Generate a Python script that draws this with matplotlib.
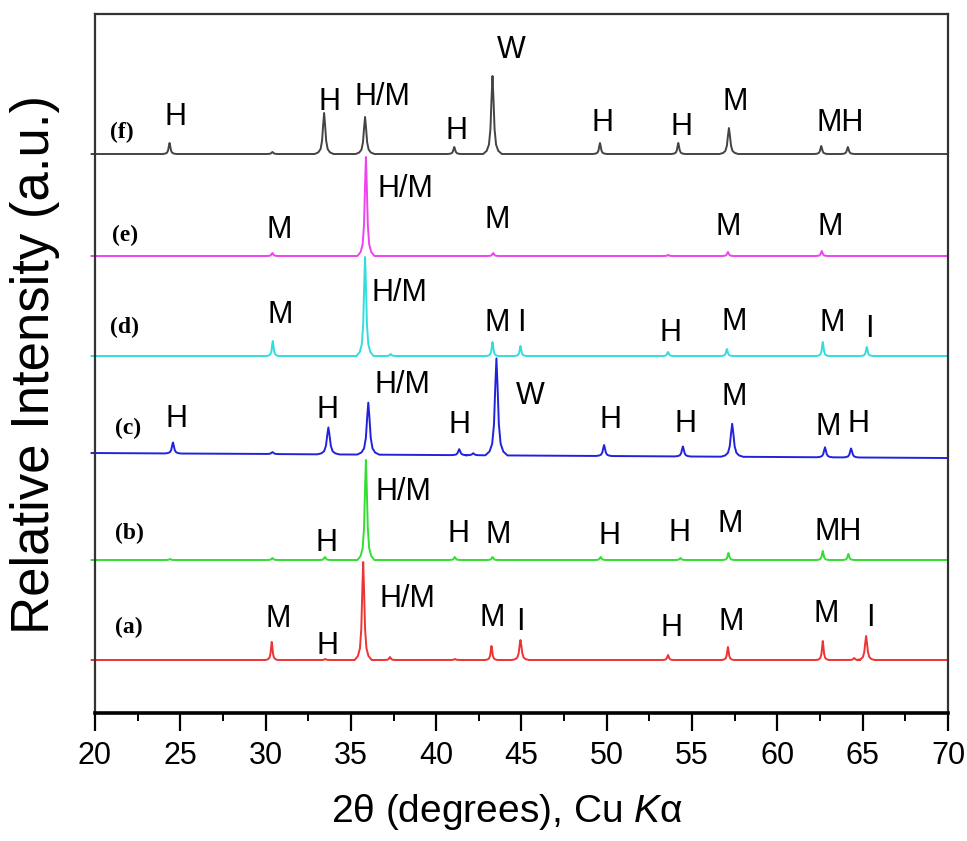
import numpy as np
import matplotlib
matplotlib.use("Agg")
import matplotlib.pyplot as plt
from matplotlib.ticker import MultipleLocator

plt.rcParams['font.family'] = ['Liberation Sans', 'DejaVu Sans']
plt.rcParams['mathtext.fontset'] = 'custom'
plt.rcParams['mathtext.it'] = 'Liberation Sans:italic'
plt.rcParams['mathtext.rm'] = 'Liberation Sans'

# ---------------- data ----------------
samples = ['(a)', '(b)', '(c)', '(d)', '(e)', '(f)']
colors = ['#ee3333', '#33dd33', '#2222dd', '#33dddd', '#ee44ee', '#444444']

# baseline level at 2theta = 19.8 and 69.9 (arbitrary units)
base_start = [53, 153, 260, 357, 457, 559]
base_end = [53, 153, 255, 357, 457, 559]

# peak positions (2theta) and heights above baseline
pos_a = [30.36, 33.5, 35.72, 37.29, 41.1, 43.24, 44.94, 53.59, 57.1, 62.66, 64.5, 65.2]
hgt_a = [18, 1, 98, 3, 1, 14, 20, 5, 13, 19, 2, 24]

pos_b = [24.4, 30.4, 33.48, 35.88, 41.09, 43.3, 49.64, 54.32, 57.13, 62.66, 64.16]
hgt_b = [1, 2, 3, 100, 3, 3, 3, 2, 7, 9, 6]

pos_c = [24.57, 30.4, 33.68, 36.02, 41.35, 42.17, 43.53, 49.84, 54.46, 57.35, 62.79, 64.32]
hgt_c = [11, 2, 27, 52, 6, 2, 97, 11, 10, 33, 10, 9]

pos_d = [30.42, 35.83, 37.33, 43.3, 44.94, 53.59, 57.04, 62.66, 65.24]
hgt_d = [15, 99, 2, 14, 10, 4, 7, 14, 9]

pos_e = [30.4, 35.88, 43.34, 53.6, 57.1, 62.6]
hgt_e = [3, 99, 3, 1, 4, 5]

pos_f = [24.37, 30.4, 33.43, 35.83, 41.06, 43.3, 49.6, 54.19, 57.16, 62.57, 64.13]
hgt_f = [11, 2, 41, 37, 7, 78, 11, 11, 26, 8, 7]

peak_pos = [pos_a, pos_b, pos_c, pos_d, pos_e, pos_f]
peak_hgt = [hgt_a, hgt_b, hgt_c, hgt_d, hgt_e, hgt_f]

# phase labels: (text, 2theta, level)
labels_a = [('M', 30.71, 94), ('H', 33.65, 67), ('H/M', 38.34, 114), ('M', 43.27, 95),
            ('I', 44.91, 91), ('H', 53.82, 85), ('M', 57.28, 91), ('M', 62.85, 99), ('I', 65.43, 95)]
labels_b = [('H', 33.59, 170), ('H/M', 38.10, 221), ('H', 41.33, 179), ('M', 43.62, 178),
            ('H', 50.13, 177), ('H', 54.29, 180), ('M', 57.22, 189), ('MH', 63.56, 181)]
labels_c = [('H', 24.79, 294), ('H', 33.65, 303), ('H/M', 38.01, 328), ('H', 41.39, 288),
            ('W', 45.49, 317), ('H', 50.19, 293), ('H', 54.59, 289), ('M', 57.46, 316),
            ('M', 62.97, 286), ('H', 64.78, 289)]
labels_d = [('M', 30.83, 398), ('H/M', 37.87, 420), ('M', 43.56, 390), ('I', 45.02, 390),
            ('H', 53.76, 380), ('M', 57.46, 391), ('M', 63.21, 390), ('I', 65.38, 384)]
labels_e = [('M', 30.79, 483), ('H/M', 38.19, 524), ('M', 43.56, 493), ('M', 57.09, 486),
            ('M', 63.07, 486)]
labels_f = [('H', 24.69, 596), ('H', 33.75, 611), ('H/M', 36.87, 616), ('H', 41.17, 582),
            ('W', 44.38, 663), ('H', 49.72, 590), ('H', 54.35, 586), ('M', 57.50, 611),
            ('MH', 63.70, 590)]
phase_labels = [labels_a, labels_b, labels_c, labels_d, labels_e, labels_f]

# sample tag positions (2theta, level)
tag_x = [21.99, 21.99, 21.92, 21.74, 21.76, 21.55]
tag_y = [86, 180, 285, 386, 478, 581]

x_start, x_end = 19.8, 69.9

# ---------------- figure ----------------
fig = plt.figure(figsize=(9.67, 8.41), dpi=100)
ax = fig.add_axes([95 / 967, 128 / 841, 853 / 967, 699 / 841])

# relative peak outline (style): offsets in 2theta and fraction of height
shape_dx = np.array([-1.0, -0.62, -0.38, -0.22, -0.1, 0.0, 0.1, 0.22, 0.38, 0.62, 1.0])
shape_fy = np.array([0.0, 0.04, 0.12, 0.32, 0.72, 1.0, 0.72, 0.32, 0.12, 0.04, 0.0])
width_scale = [1.0, 1.0, 1.3, 1.0, 1.0, 1.1]

for i in range(6):
    pos = peak_pos[i]
    hgt = peak_hgt[i]
    xs = [x_start]
    fr = []
    for p, h in zip(pos, hgt):
        w = (0.5 if h >= 20 else 0.36) * width_scale[i]
        xs.extend(list(p + shape_dx * w))
        fr.extend(list(shape_fy * h))
    xs.append(x_end)
    xs = np.array(xs)
    heights = np.array([0.0] + fr + [0.0])
    base = base_start[i] + (base_end[i] - base_start[i]) * (xs - x_start) / (x_end - x_start)
    ax.plot(xs, base + heights, color=colors[i], lw=1.4, clip_on=False,
            solid_joinstyle='round')
    for txt, lx, ly in phase_labels[i]:
        ax.text(lx, ly, txt, ha='center', va='center', fontsize=22, color='black')
    ax.text(tag_x[i], tag_y[i], samples[i], ha='center', va='center', fontsize=17,
            fontweight='bold', family=['Liberation Serif', 'DejaVu Serif'])

ax.set_xlim(20, 70)
ax.set_ylim(0, 699)
ax.set_yticks([])
ax.xaxis.set_major_locator(MultipleLocator(5))
ax.xaxis.set_minor_locator(MultipleLocator(2.5))
ax.tick_params(axis='x', which='major', direction='out', length=13, width=1.6,
               labelsize=22, pad=7)
ax.tick_params(axis='x', which='minor', direction='out', length=6, width=1.4)
for s in ['left', 'top', 'right']:
    ax.spines[s].set_linewidth(1.6)
    ax.spines[s].set_color('#333333')
ax.spines['bottom'].set_linewidth(2.6)
ax.spines['bottom'].set_color('black')

fig.text(507 / 967, 1 - 812 / 841, r'2θ (degrees), Cu $\mathit{K}$α', ha='center',
         va='center', fontsize=28)
fig.text(35 / 967, 1 - 364 / 841, 'Relative Intensity (a.u.)', ha='center', va='center',
         rotation=90, fontsize=38)

fig.savefig('out.png', dpi=100)
